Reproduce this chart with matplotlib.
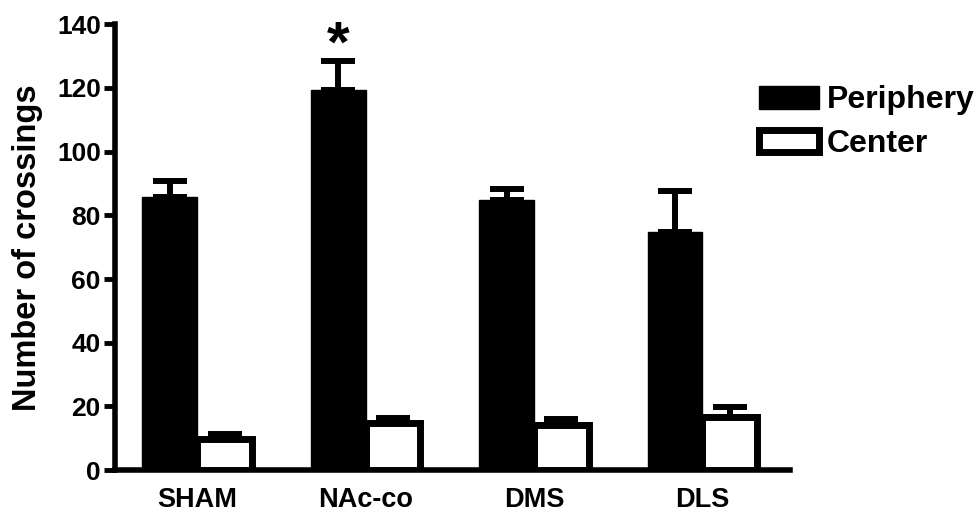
import matplotlib.pyplot as plt
import numpy as np

plt.rcParams['font.family'] = ['Liberation Sans', 'DejaVu Sans']
plt.rcParams['font.weight'] = 'bold'

groups = ['SHAM', 'NAc-co', 'DMS', 'DLS']
periphery = [85.7, 119.3, 84.7, 74.7]
periphery_err = [5.0, 9.1, 3.5, 12.9]
center = [9.9, 14.8, 14.3, 16.8]
center_err = [1.5, 1.7, 1.9, 3.1]
yticks = [0, 20, 40, 60, 80, 100, 120, 140]

x = np.arange(len(groups))
w = 0.325

fig = plt.figure(figsize=(9.8, 5.15), dpi=100)
ax = fig.add_axes([0.117, 0.087, 0.689, 0.866])

bp = ax.bar(x - w / 2, periphery, w, color='black', edgecolor='black',
            linewidth=1, label='Periphery')
bc = ax.bar(x + w / 2, center, w, color='white', edgecolor='black',
            linewidth=5, label='Center', zorder=3)

ax.errorbar(x - w / 2, periphery, yerr=[np.zeros(4), periphery_err], fmt='none',
            ecolor='black', elinewidth=4.3, capsize=12, capthick=4.3)
ax.errorbar(x + w / 2, center, yerr=[np.zeros(4), center_err], fmt='none',
            ecolor='black', elinewidth=4.3, capsize=12, capthick=4.3, zorder=2)

# significance marker
ax.text(x[1] - w / 2, 133, '*', ha='center', va='center',
        fontsize=42, fontweight='bold')

ax.set_xlim(-0.49, 3.52)
ax.set_ylim(0, 140)
ax.set_yticks(yticks)
ax.set_xticks(x)
ax.set_xticklabels(groups, fontsize=19.5, fontweight='bold')
ax.tick_params(axis='x', length=0, pad=12)
ax.tick_params(axis='y', length=8, width=3.5, labelsize=19, pad=2)
for lbl in ax.get_yticklabels():
    lbl.set_fontweight('bold')
ax.set_ylabel('Number of crossings', fontsize=23.5, fontweight='bold', labelpad=10)

ax.spines['top'].set_visible(False)
ax.spines['right'].set_visible(False)
ax.spines['left'].set_linewidth(4)
ax.spines['bottom'].set_linewidth(4)

fig.legend(handles=[bp, bc], loc='upper left', bbox_to_anchor=(0.7745, 0.834),
           frameon=False, handlelength=1.88, handleheight=0.72,
           handletextpad=0.25, labelspacing=0.43, borderpad=0,
           borderaxespad=0, prop={'weight': 'bold', 'size': 23})

fig.savefig('out.png', dpi=100)
